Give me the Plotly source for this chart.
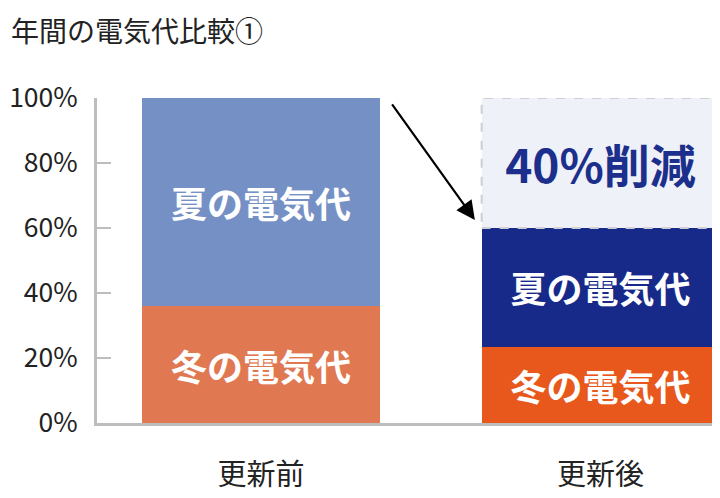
import plotly.graph_objects as go

categories = ["更新前", "更新後"]
winter = [36, 23.5]
summer = [64, 36.5]
reduced = [0, 40]
winter_labels = ["冬の電気代", "冬の電気代"]
summer_labels = ["夏の電気代", "夏の電気代"]
reduced_labels = ["", "40%削減"]
tick_vals = [0, 20, 40, 60, 80, 100]
tick_text = ["0%", "20%", "40%", "60%", "80%", "100%"]

jp = "Noto Sans CJK JP"
bar_w = 0.7

fig = go.Figure()
fig.add_trace(go.Bar(
    x=categories, y=winter, text=winter_labels, width=bar_w,
    marker=dict(color=["#E07852", "#E8581C"], line=dict(width=0)),
    textposition="inside", insidetextanchor="middle",
    textfont=dict(family=jp, size=36, color="white", weight="bold"),
))
fig.add_trace(go.Bar(
    x=categories, y=summer, text=summer_labels, width=bar_w,
    marker=dict(color=["#7590C5", "#172A8A"], line=dict(width=0)),
    textposition="inside", insidetextanchor="middle",
    textfont=dict(family=jp, size=36, color="white", weight="bold"),
))
fig.add_trace(go.Bar(
    x=categories, y=reduced, text=reduced_labels, width=bar_w,
    marker=dict(color="#EEF1F7", line=dict(width=0)),
    textposition="inside", insidetextanchor="middle",
    textfont=dict(family=jp, size=46, color="#1C2F8C", weight="bold"),
))

# dashed outline around the reduced part
base = winter[1] + summer[1]
fig.add_shape(type="rect", xref="x", yref="y",
              x0=1 - bar_w / 2, x1=1 + bar_w / 2, y0=base, y1=base + reduced[1],
              line=dict(color="#CDCFD3", width=2, dash="dash"))

fig.add_annotation(x=0.63, y=62.5, ax=0.383, ay=98.5, xref="x", yref="y",
                   axref="x", ayref="y", text="", showarrow=True,
                   arrowhead=2, arrowsize=1.7, arrowwidth=2.2, arrowcolor="black")

# title
fig.add_annotation(text="年間の電気代比較①", xref="paper", yref="paper",
                   x=-0.142, y=1.209, xanchor="left", yanchor="middle", showarrow=False,
                   font=dict(family=jp, size=28, color="#222"))

fig.update_layout(
    barmode="stack",
    width=720, height=498,
    margin=dict(l=89, r=8, t=90, b=83),
    plot_bgcolor="white", paper_bgcolor="white",
    showlegend=False,
    font=dict(family=jp, color="#222"),
    xaxis=dict(range=[-0.483, 1.352], showline=True, linecolor="#BDBDBD", linewidth=3,
               ticks="", tickfont=dict(size=29, color="#222"), ticklabelstandoff=24,
               automargin=False),
    yaxis=dict(range=[0, 100], tickvals=tick_vals, ticktext=tick_text, showgrid=False,
               zeroline=False, showline=True, linecolor="#BDBDBD", linewidth=3,
               ticks="inside", ticklen=14, tickwidth=2, tickcolor="#BDBDBD",
               tickfont=dict(size=26.5, color="#222"), ticklabelstandoff=11,
               automargin=False),
)

fig.write_html("out.html")
